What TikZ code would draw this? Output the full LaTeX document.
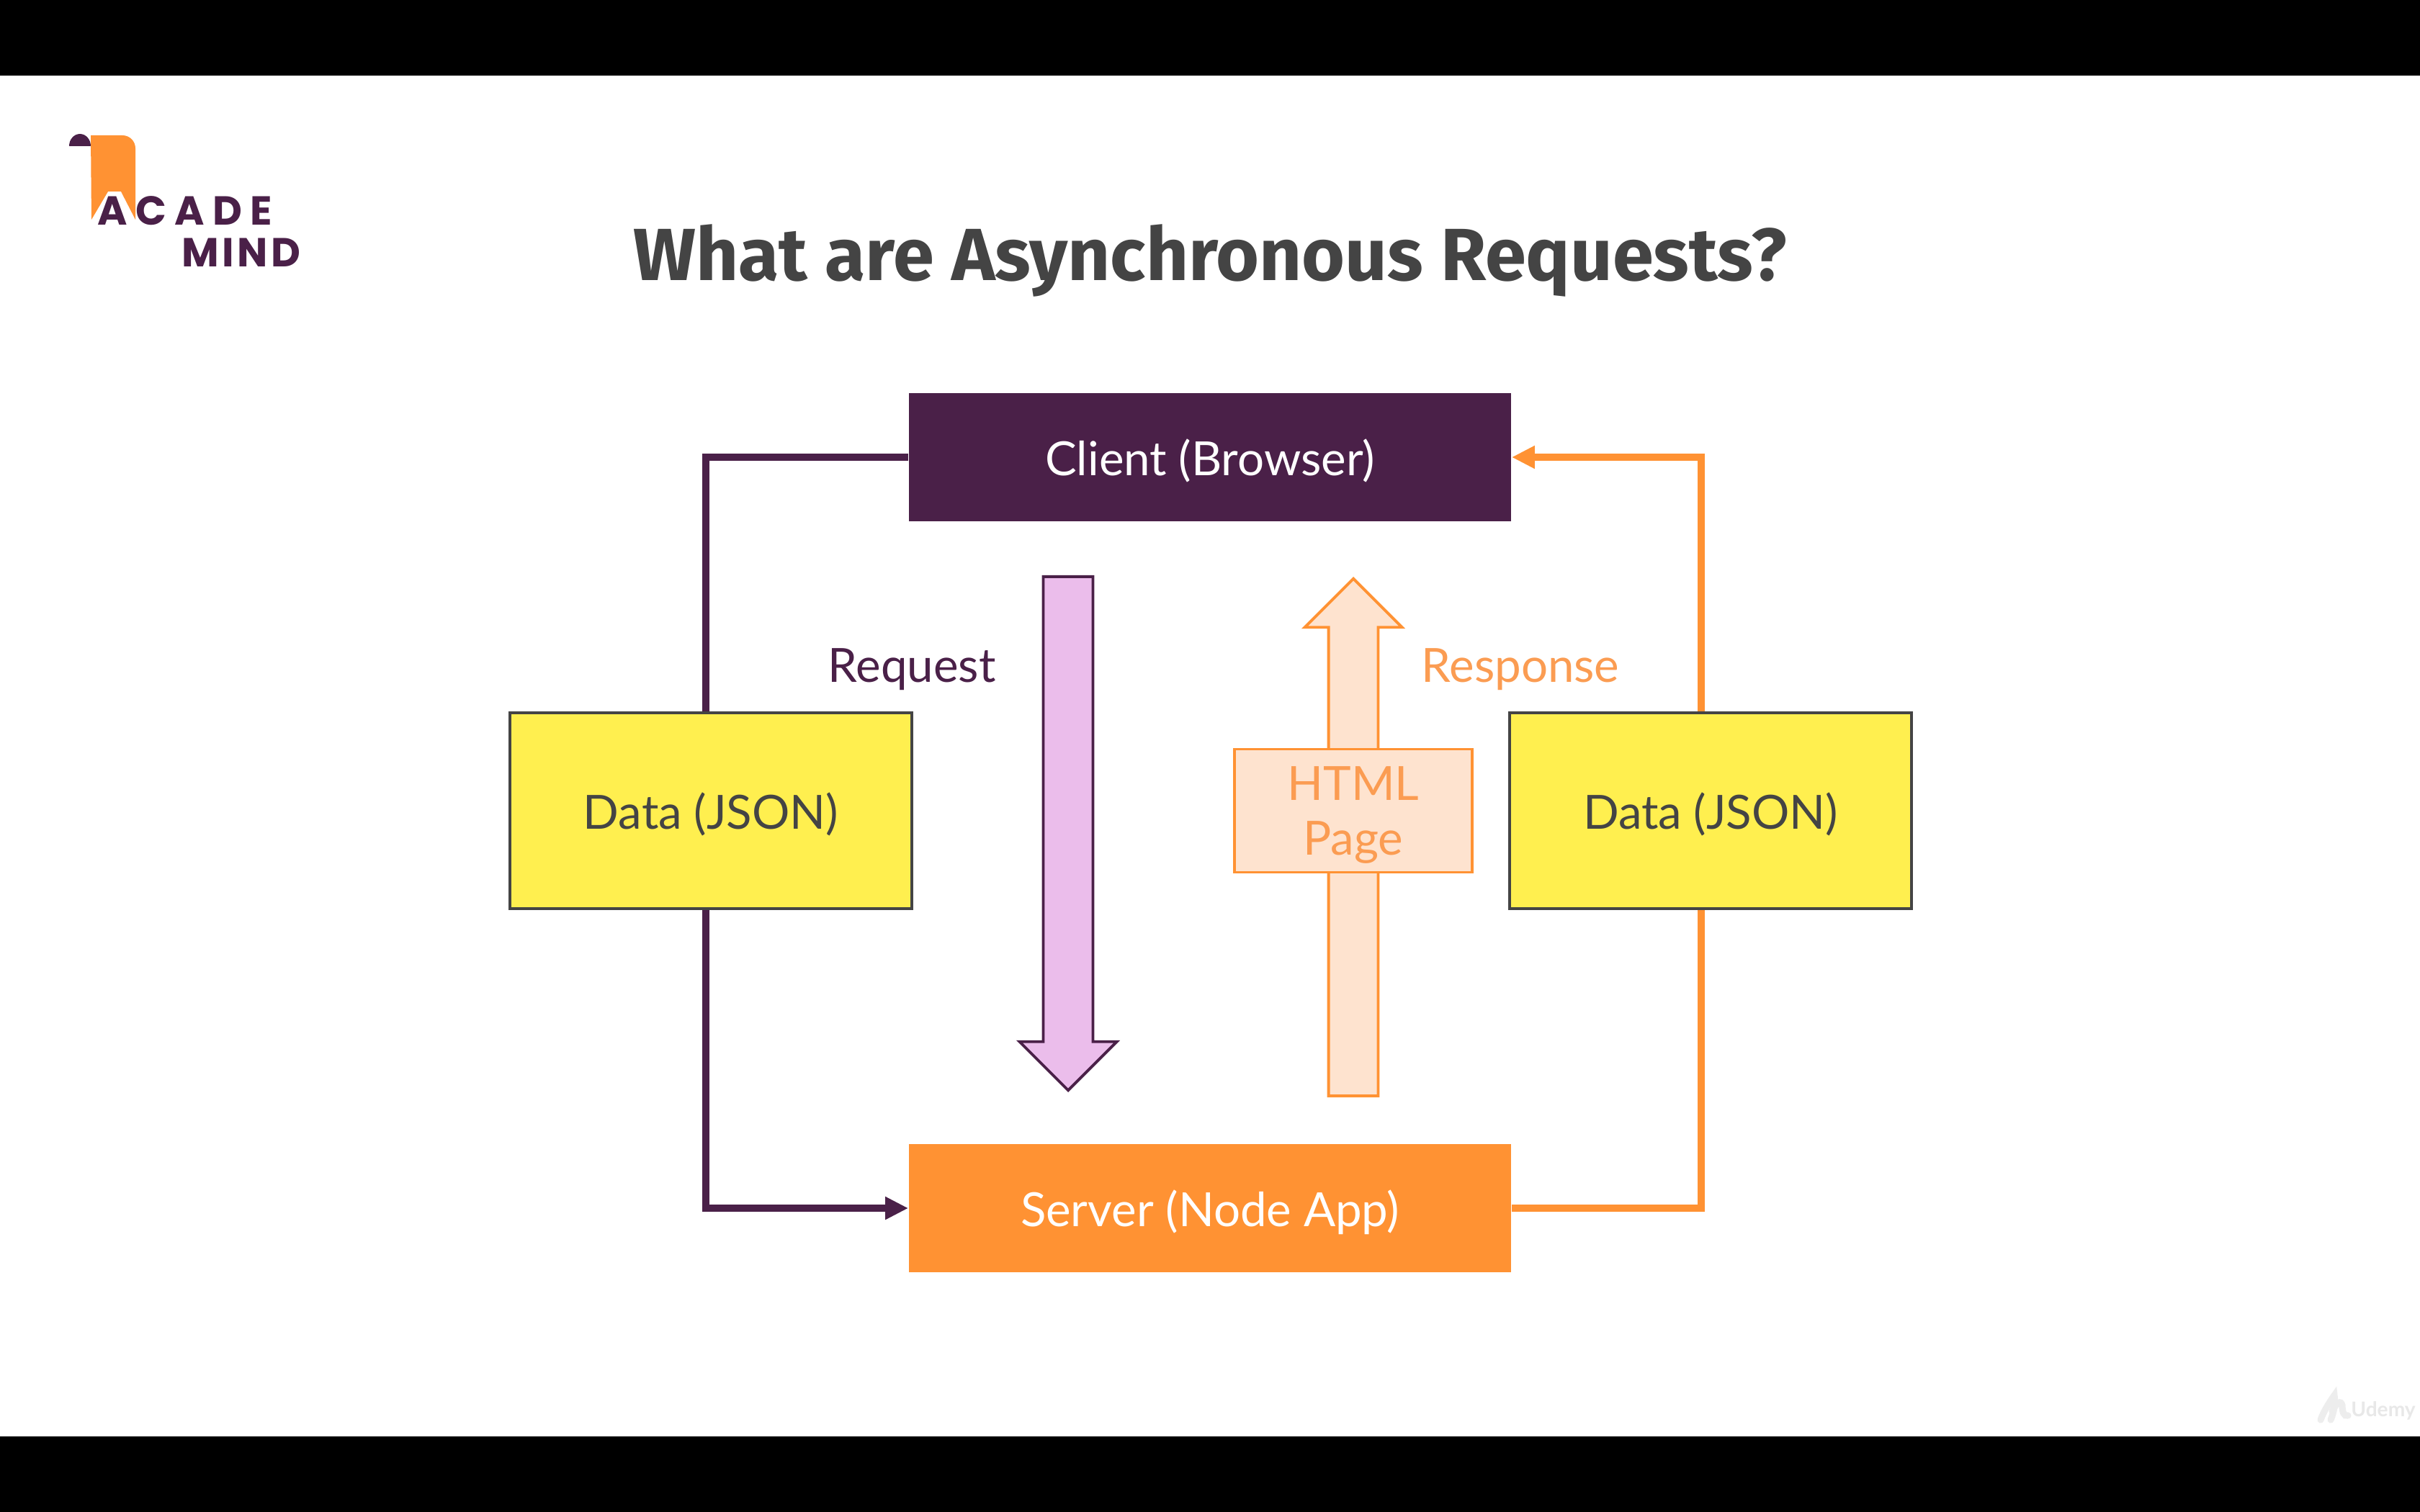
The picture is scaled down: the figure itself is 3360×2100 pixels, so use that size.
\documentclass[tikz,border=0pt]{standalone}
\usepackage{fontspec}
\setmainfont{Lato}
\newfontfamily\titlefont{Fira Sans}
\newfontfamily\logofont[LetterSpace=8]{Poppins}
\newfontfamily\logowidefont[LetterSpace=20]{Poppins}
\usetikzlibrary{arrows.meta,shapes.arrows}
\definecolor{darkplum}{HTML}{4A2048}
\definecolor{brightorange}{HTML}{FF9233}
\definecolor{softorange}{HTML}{FEE3CF}
\definecolor{softpink}{HTML}{EBBDEB}
\definecolor{dataYellow}{HTML}{FFEF4F}
\definecolor{inkgray}{HTML}{444444}
\definecolor{orangetext}{HTML}{FB9C52}
\tikzset{
	bodytext/.style={font=\fontsize{18.6}{21.5}\selectfont,text depth=0pt},
	endbox/.style={rectangle,inner sep=0pt,minimum width=8.36cm,minimum height=1.78cm,text=white,bodytext},
	databox/.style={draw=inkgray,line width=1.2pt,rectangle,inner sep=0pt,fill=dataYellow,minimum width=5.57cm,minimum height=2.72cm,text=inkgray,bodytext},
	flowline/.style={line width=2.7pt,>={Stealth[length=0.32cm,width=0.3cm,inset=0pt]}},
	blockarrow/.style={single arrow,draw,line width=1.1pt,inner sep=0pt,anchor=tip,single arrow head extend=0.33cm},
	logotext/.style={inner sep=0pt,anchor=base west,text=darkplum},
}
\begin{document}
\begin{tikzpicture}[x=0.01cm,y=-0.01cm]
	\useasboundingbox (0,0) rectangle (3360,2100);
	\fill[black] (0,0) rectangle (3360,2100);
	\fill[white] (0,105) rectangle (3360,1995);
	\fill[brightorange] (126,188) -- (170,188) to[out=0,in=90] (188,206) -- (188,305) -- (168,266) -- (150,266) -- (127,305) -- cycle;
	\fill[darkplum] (96,203) arc[start angle=180,end angle=360,x radius=15,y radius=17] -- cycle;
	\node[logotext,font=\logowidefont\bfseries\fontsize{16}{16}\selectfont] (logotop) at (135,312) {ACADE};
	\node[logotext,font=\logofont\bfseries\fontsize{16}{16}\selectfont] (logobottom) at (252,370) {MIND};
	\node[font=\titlefont\bfseries\fontsize{29.2}{34}\selectfont,text=inkgray,inner sep=0pt,text depth=0pt] (title) at (1680,351) {What are Asynchronous Requests?};
	\node[endbox,fill=darkplum] (client) at (1680,635) {Client (Browser)};
	\node[endbox,fill=brightorange] (server) at (1680,1678) {Server (Node App)};
	\coordinate (plumtop) at (980,990);
	\coordinate (plumbottom) at (980,1262);
	\coordinate (orangetop) at (2362,990);
	\coordinate (orangebottom) at (2362,1262);
	\draw[flowline,darkplum] (client.west) -| (plumtop);
	\draw[flowline,darkplum,->] (plumbottom) |- (server.west);
	\draw[flowline,brightorange] (server.east) -| (orangebottom);
	\draw[flowline,brightorange,->] (orangetop) |- (client.east);
	\node[databox] (dataleft) at (987,1126) {Data (JSON)};
	\node[databox] (dataright) at (2375,1126) {Data (JSON)};
	\node[blockarrow,draw=darkplum,fill=softpink,minimum height=7.13cm,rotate=-90] (requestarrow) at (1483,1517) {\rule{0pt}{0.65cm}};
	\node[blockarrow,draw=brightorange,fill=softorange,minimum height=7.18cm,rotate=90] (responsearrow) at (1879,801) {\rule{0pt}{0.65cm}};
	\node[draw=brightorange,line width=1.1pt,fill=softorange,rectangle,inner sep=0pt,minimum width=3.3cm,minimum height=1.71cm,text=orangetext,align=center,bodytext] (htmlpage) at (1879,1126) {HTML\\Page};
	\node[bodytext,text=darkplum,inner sep=0pt] (request) at (1266,924) {Request};
	\node[bodytext,text=orangetext,inner sep=0pt] (response) at (2111,924) {Response};
	\draw[black!7,line width=2.6pt,line cap=round] (3222,1972) .. controls (3226,1960) and (3236,1945) .. (3241,1938) .. controls (3243,1950) and (3240,1962) .. (3236,1972);
	\draw[black!7,line width=2.6pt,line cap=round] (3238,1960) .. controls (3244,1948) and (3250,1944) .. (3252,1952) .. controls (3252,1960) and (3254,1968) .. (3260,1966);
	\node[text=black!9,font=\bfseries\fontsize{8}{9}\selectfont,inner sep=0pt] (udemy) at (3309,1959) {Udemy};
\end{tikzpicture}
\end{document}
